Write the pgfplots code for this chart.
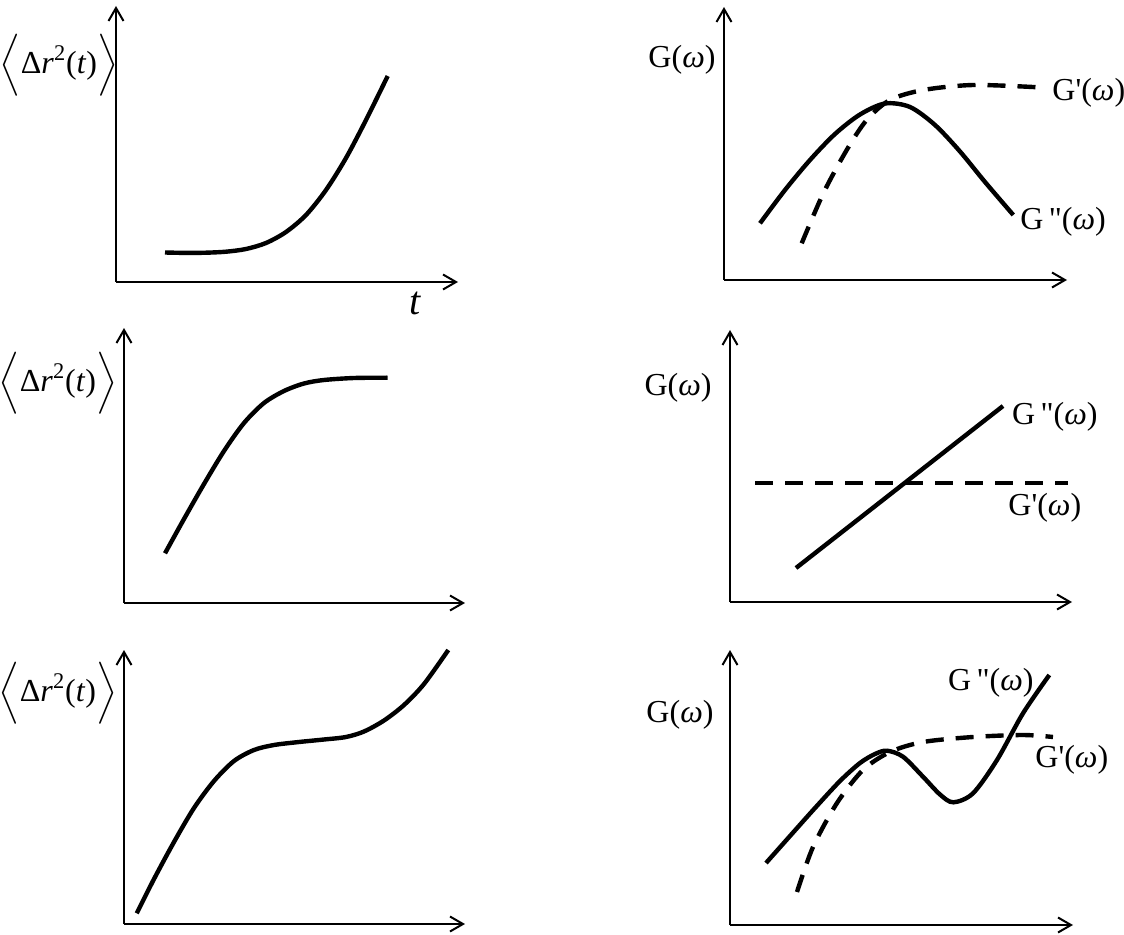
\documentclass[border=0pt]{standalone}
\usepackage{pgfplots}
\pgfplotsset{compat=1.18}
\usepackage{amsmath}
\usepackage{fontspec}
\setmainfont{Liberation Serif}
\usetikzlibrary{arrows.meta}
\newcommand{\lbl}{\fontsize{16}{18}\selectfont}
\newcommand{\Gw}{G(\textit{ω})}
\newcommand{\Gp}{G\textquotesingle(\textit{ω})}
\newcommand{\Gpp}{G\,\textquotedbl(\textit{ω})}
\newcommand{\msd}{$\Bigl\langle\text{Δ\textit{r}}^{\text{2}}\text{(\textit{t})}\Bigr\rangle$}
\pgfplotsset{panel/.style={scale only axis, axis lines=left, xmin=0, ymin=0,
  xtick=\empty, ytick=\empty, clip=false, anchor=south west,
  axis line style={line width=1pt, -{Straight Barb[length=6.5pt,width=7.5pt]}}},
  solidc/.style={black, line width=2.2pt, smooth, no marks},
  dashc/.style={black, line width=2.2pt, smooth, no marks, dash pattern=on 9pt off 6pt}}
\begin{document}
\begin{tikzpicture}
\useasboundingbox (0,0) rectangle (562pt,-467.5pt);
% Panel 1
\begin{axis}[panel, at={(58pt,-141pt)}, width=171pt, height=138pt, xmax=342, ymax=276]
\addplot[solidc] coordinates {(49,29.5)(70,29.1)(90,29.3)(110,30.3)(130,33)(150,39)(170,50)(190,67)(210,92)(230,124)(250,162)(271.7,206)};
\node[font=\lbl] at (axis cs:-57,217) {\msd};
\node[font=\fontsize{20}{22}\selectfont\itshape] at (axis cs:299,-21) {t};
\end{axis}
% Panel 2
\begin{axis}[panel, at={(362pt,-140pt)}, width=171.5pt, height=136.5pt, xmax=343, ymax=273]
\addplot[solidc] coordinates {(36,56.7)(61,90)(86,120)(111,146)(136,165.5)(161,176.5)(186,173)(211,155)(236,128.5)(261,98)(289.3,65)};
\addplot[dashc] coordinates {(77.7,36.7)(99.3,86.7)(122.7,130)(142.7,160)(166,180)(199.3,190)(249.3,195)(314.3,192.7)};
\node[font=\lbl] at (axis cs:-42,220) {\Gw};
\node[font=\lbl, anchor=west, inner sep=0pt] at (axis cs:328,187) {\Gp};
\node[font=\lbl, anchor=west, inner sep=0pt] at (axis cs:296,58) {\Gpp};
\end{axis}
% Panel 3
\begin{axis}[panel, at={(62pt,-301.5pt)}, width=170.5pt, height=137.5pt, xmax=341, ymax=275]
\addplot[solidc] coordinates {(41,49.7)(60,84)(80,119)(100,152)(120,180)(140,200)(160,212)(180,219.5)(200,223)(230,225)(263.7,225.3)};
\node[font=\lbl] at (axis cs:-66,220) {\msd};
\end{axis}
% Panel 4
\begin{axis}[panel, at={(365pt,-301pt)}, width=171pt, height=136pt, xmax=342, ymax=272]
\addplot[black, line width=2.2pt, no marks] coordinates {(66,34)(273,196)};
\addplot[black, line width=2.2pt, no marks, dash pattern=on 9pt off 6pt] coordinates {(25,119)(338,119)};
\node[font=\lbl] at (axis cs:-52,214) {\Gw};
\node[font=\lbl, anchor=west, inner sep=0pt] at (axis cs:281.7,185) {\Gpp};
\node[font=\lbl, anchor=west, inner sep=0pt] at (axis cs:278,94) {\Gp};
\end{axis}
% Panel 5
\begin{axis}[panel, at={(62pt,-462pt)}, width=170.5pt, height=137pt, xmax=341, ymax=274]
\addplot[solidc] coordinates {(12.7,10.7)(30,45)(50,82)(70,116)(90,143)(110,163)(130,174)(150,179)(175,182)(200,184.5)(222,187)(240,192.5)(260,203.5)(280,219)(300,240)(324.3,274)};
\node[font=\lbl] at (axis cs:-66,231) {\msd};
\end{axis}
% Panel 6
\begin{axis}[panel, at={(365pt,-462.5pt)}, width=171.5pt, height=137.5pt, xmax=343, ymax=275]
\addplot[solidc] coordinates {(36,62)(60,89)(85,117)(110,144)(130,162)(145,171)(157,174.3)(173,168.3)(193,148.3)(210,130.5)(223.3,122.7)(243,131.7)(267,165)(293,211.7)(319.3,250)};
\addplot[dashc] coordinates {(67,33)(83,78)(107,122)(133,155)(160,173)(193,183)(243,188)(293,190)(323,188)};
\node[font=\lbl] at (axis cs:-50,210) {\Gw};
\node[font=\lbl, anchor=east, inner sep=0pt] at (axis cs:304,242) {\Gpp};
\node[font=\lbl, anchor=west, inner sep=0pt] at (axis cs:305,165) {\Gp};
\end{axis}
\end{tikzpicture}
\end{document}
